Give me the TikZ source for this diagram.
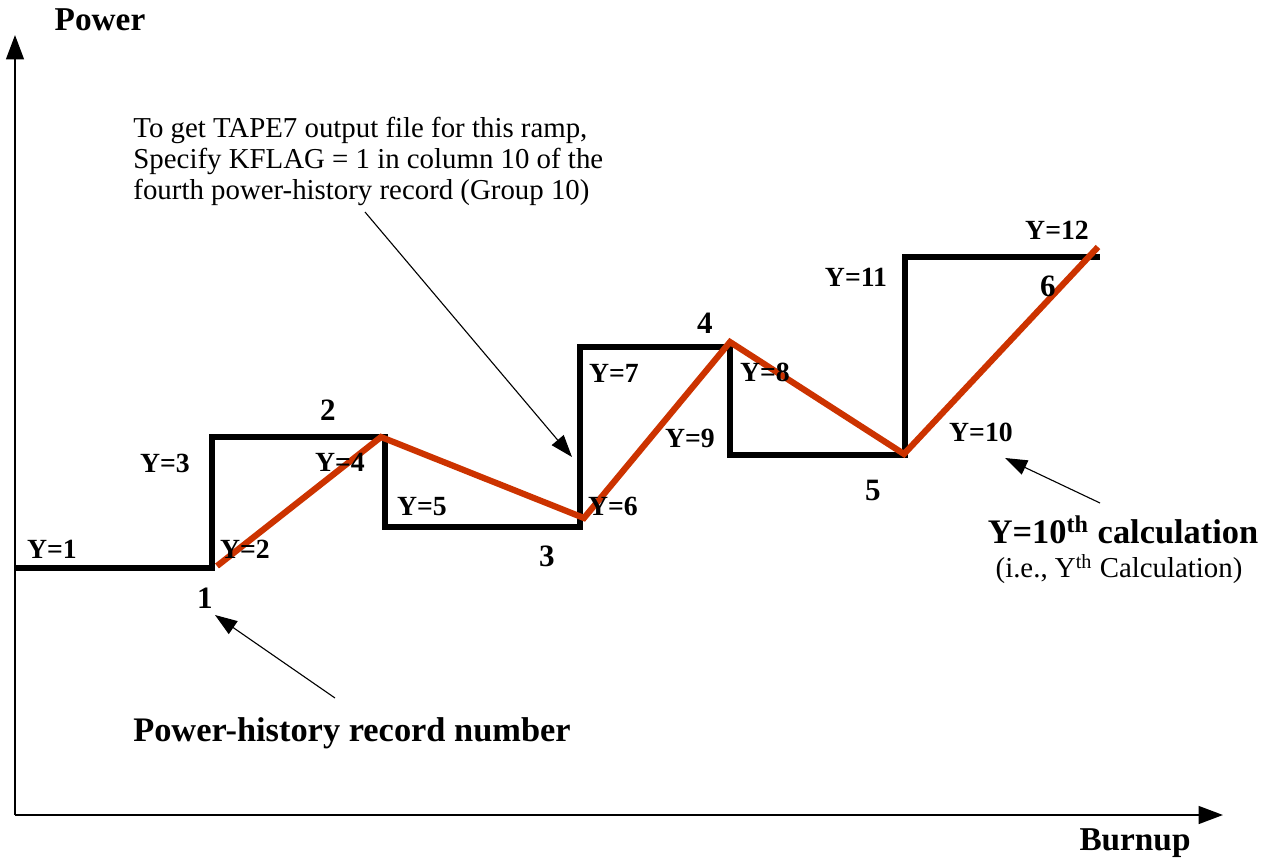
\documentclass[tikz,border=0pt]{standalone}
\usepackage{fontspec}
\setmainfont{Liberation Serif}
\usetikzlibrary{arrows.meta,positioning}

\definecolor{rampred}{RGB}{204,51,0}

\begin{document}
\begin{tikzpicture}[x=0.01584cm, y=-0.01584cm,
     axis/.style={line width=1pt, -{Triangle[length=11pt,width=8pt]}},
     hist/.style={line width=2.4pt, line join=miter},
     ramp/.style={line width=2.8pt, draw=rampred, line join=miter},
     note/.style={line width=0.5pt, -{Triangle[length=10pt,width=7pt]}},
     ylbl/.style={font=\fontsize{12.5}{14}\selectfont\bfseries, inner sep=0pt},
     rec/.style={font=\fontsize{14}{16}\selectfont\bfseries, inner sep=0pt},
     hint/.style={font=\fontsize{15.5}{17}\selectfont\bfseries, inner sep=0pt},
     big/.style={font=\fontsize{15}{17}\selectfont\bfseries, inner sep=0pt},
     txt/.style={font=\fontsize{13}{13.8}\selectfont, inner sep=0pt, align=left}]
  \useasboundingbox (0,0) rectangle (1263,863);
  % axes
  \coordinate (o) at (15,815);
  \coordinate (ytop) at (15,35);
  \coordinate (xend) at (1223,815);
  \draw[axis] (o) -- (ytop);
  \draw[axis] (o) -- (xend);
  \node[big] (power) at (100,20) {Power};
  \node[big] (burnup) at (1135,843) {Burnup};
  % power history steps
  \draw[hist] (15,568) -- (212,568) -- (212,437) -- (385,437) -- (385,527)
     -- (580,527) -- (580,347) -- (730,347) -- (730,455) -- (905,455)
     -- (905,257) -- (1100,257);
  % ramp
  \draw[ramp] (217,566) -- (381,437) -- (584,518) -- (730,342) -- (904,454) -- (1098,247);
  % calculation points
  \node[ylbl] (y1)  at (52,549)  {Y=1};
  \node[ylbl] (y2)  at (245,549) {Y=2};
  \node[ylbl] (y3)  at (165,463) {Y=3};
  \node[ylbl] (y4)  at (340,462) {Y=4};
  \node[ylbl] (y5)  at (422,507) {Y=5};
  \node[ylbl] (y6)  at (613,506) {Y=6};
  \node[ylbl] (y7)  at (614,373) {Y=7};
  \node[ylbl] (y8)  at (765,372) {Y=8};
  \node[ylbl] (y9)  at (690,438) {Y=9};
  \node[ylbl] (y10) at (981,432) {Y=10};
  \node[ylbl] (y11) at (856,277) {Y=11};
  \node[ylbl] (y12) at (1057,230) {Y=12};
  % record numbers
  \node[rec] (r1) at (205,598)  {1};
  \node[rec] (r2) at (328,410)  {2};
  \node[rec] (r3) at (547,556)  {3};
  \node[rec] (r4) at (705,323)  {4};
  \node[rec] (r5) at (873,490)  {5};
  \node[rec] (r6) at (1048,286) {6};
  % notes
  \node[txt, anchor=north west] (kflag) at (133,117)
     {To get TAPE7 output file for this ramp,\\
      Specify KFLAG = 1 in column 10 of the\\
      fourth power-history record (Group 10)};
  \coordinate (kflagstart) at (365,212);
  \coordinate (kflagtip) at (572,457);
  \draw[note] (kflagstart) -- (kflagtip);
  \node[hint] (recno) at (352,733) {Power-history record number};
  \coordinate (recstart) at (335,698);
  \coordinate (rectip) at (215,615);
  \draw[note] (recstart) -- (rectip);
  \node[hint] (calc) at (1123,530) {Y=10\textsuperscript{th} calculation};
  \node[txt] (calcsub) at (1119,569) {(i.e., Y\textsuperscript{th} Calculation)};
  \coordinate (calcstart) at (1100,503);
  \coordinate (calctip) at (1005,458);
  \draw[note] (calcstart) -- (calctip);
\end{tikzpicture}
\end{document}
